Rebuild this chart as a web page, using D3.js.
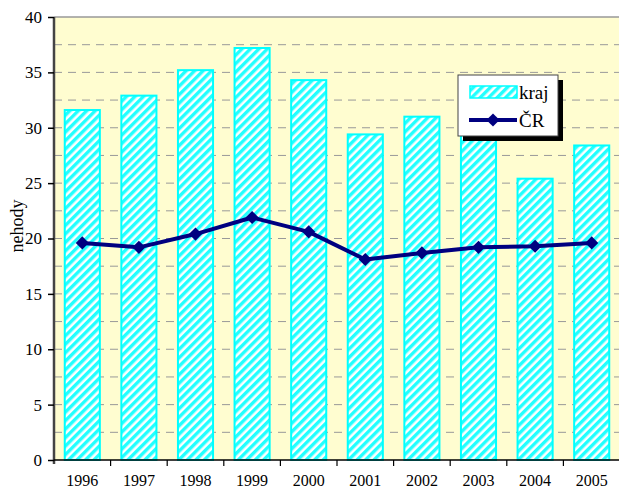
<!DOCTYPE html>
<html>
<head>
<meta charset="utf-8">
<script src="https://cdn.jsdelivr.net/npm/d3@7"></script>
<style>
  body { margin: 0; background: #fff; }
</style>
</head>
<body>
<svg id="area" width="619" height="490"></svg>
<script>
const years = ["1996","1997","1998","1999","2000","2001","2002","2003","2004","2005"];
const kraj = [31.6, 32.9, 35.2, 37.2, 34.3, 29.4, 31.0, 30.0, 25.4, 28.4];
const cr = [19.6, 19.2, 20.4, 21.9, 20.6, 18.1, 18.7, 19.2, 19.3, 19.6];
const yTicks = [0, 5, 10, 15, 20, 25, 30, 35, 40];
const gridVals = [2.5, 5, 7.5, 10, 12.5, 15, 17.5, 20, 22.5, 25, 27.5, 30, 32.5, 35, 37.5];

const svg = d3.select("#area").attr("font-family","Liberation Serif");
const pLeft = 54, pRight = 620, pTop = 17, pBottom = 460;
const serif = "Liberation Serif";

// hatch pattern for bars
const defs = svg.append("defs");
const pat = defs.append("pattern")
  .attr("id","hatch")
  .attr("patternUnits","userSpaceOnUse")
  .attr("width",6).attr("height",6)
  .attr("patternTransform","rotate(45)");
pat.append("rect").attr("width",6).attr("height",6).attr("fill","#ffffff");
pat.append("rect").attr("width",3.4).attr("height",6).attr("fill","#22ffff");

const x = d3.scaleBand().domain(years).range([pLeft, pRight]).paddingInner(0.38).paddingOuter(0.19);
const xb = d3.scaleBand().domain(years).range([pLeft, pRight]);
const y = d3.scaleLinear().domain([0, 40]).range([pBottom, pTop]);

// plot background
svg.append("rect")
  .attr("x",pLeft).attr("y",pTop)
  .attr("width",pRight-pLeft).attr("height",pBottom-pTop)
  .attr("fill","#fffdd0");

// gridlines
svg.append("g").selectAll("line").data(gridVals).join("line")
  .attr("x1",pLeft).attr("x2",pRight)
  .attr("y1",d=>y(d)).attr("y2",d=>y(d))
  .attr("stroke","#999").attr("stroke-width",1)
  .attr("stroke-dasharray","8,6");

svg.append("line")
  .attr("x1",pLeft).attr("x2",pRight).attr("y1",pTop).attr("y2",pTop)
  .attr("stroke","#999").attr("stroke-width",1.5);

// bars
svg.append("g").selectAll("rect").data(kraj).join("rect")
  .attr("x",(d,i)=>x(years[i]))
  .attr("y",d=>y(d))
  .attr("width",x.bandwidth())
  .attr("height",d=>pBottom-y(d))
  .attr("fill","url(#hatch)")
  .attr("stroke","#00ffff")
  .attr("stroke-width",2);

// line
const line = d3.line()
  .x((d,i)=>xb(years[i])+xb.bandwidth()/2)
  .y(d=>y(d));
svg.append("path").datum(cr)
  .attr("d",line)
  .attr("fill","none")
  .attr("stroke","#000080")
  .attr("stroke-width",4)
  .attr("stroke-linejoin","round");

const diamond = d3.symbol().type(d3.symbolDiamond2).size(110);
svg.append("g").selectAll("path").data(cr).join("path")
  .attr("d",diamond)
  .attr("transform",(d,i)=>"translate("+(xb(years[i])+xb.bandwidth()/2)+","+y(d)+")")
  .attr("fill","#000080");

// y axis
const yAxis = d3.axisLeft(y).tickValues(yTicks).tickSize(6).tickPadding(6);
const gy = svg.append("g")
  .attr("transform","translate("+pLeft+",0)")
  .call(yAxis)
  .attr("font-family",serif)
  .attr("font-size",17);
gy.select(".domain").attr("stroke","#444").attr("stroke-width",2.5).attr("d","M0,"+(pBottom+4)+"V"+pTop);
gy.selectAll(".tick line").attr("stroke","#000").attr("stroke-width",1.5);
gy.selectAll("text").attr("fill","#000");

// x axis
svg.append("line")
  .attr("x1",pLeft).attr("x2",pRight).attr("y1",pBottom).attr("y2",pBottom)
  .attr("stroke","#000").attr("stroke-width",1.5);
svg.append("g").selectAll("line").data(years.slice(1)).join("line")
  .attr("x1",d=>xb(d)).attr("x2",d=>xb(d))
  .attr("y1",pBottom).attr("y2",pBottom+6)
  .attr("stroke","#000").attr("stroke-width",1.2);
svg.append("g").selectAll("text").data(years).join("text")
  .attr("x",d=>xb(d)+xb.bandwidth()/2)
  .attr("y",pBottom+26)
  .attr("text-anchor","middle")
  .attr("font-size",16)
  .text(d=>d);

// y label
svg.append("text")
  .attr("transform","translate(23,226) rotate(-90)")
  .attr("text-anchor","middle")
  .attr("font-size",18)
  .text("nehody");

// legend
const lg = svg.append("g").attr("transform","translate(458,75)");
lg.append("rect").attr("x",5).attr("y",5).attr("width",100).attr("height",61).attr("fill","#000");
lg.append("rect").attr("x",0).attr("y",0).attr("width",100).attr("height",61)
  .attr("fill","#fff").attr("stroke","#444").attr("stroke-width",1);
lg.append("rect").attr("x",12).attr("y",11).attr("width",47).attr("height",12)
  .attr("fill","url(#hatch)").attr("stroke","#00ffff").attr("stroke-width",1.5);
lg.append("text").attr("x",61).attr("y",24).attr("font-size",19).text("kraj");
lg.append("line").attr("x1",11).attr("x2",59).attr("y1",45).attr("y2",45)
  .attr("stroke","#000080").attr("stroke-width",4);
lg.append("path").attr("d",diamond).attr("transform","translate(35,45)").attr("fill","#000080");
lg.append("text").attr("x",61).attr("y",52).attr("font-size",19).text("ČR");
</script>
</body>
</html>
